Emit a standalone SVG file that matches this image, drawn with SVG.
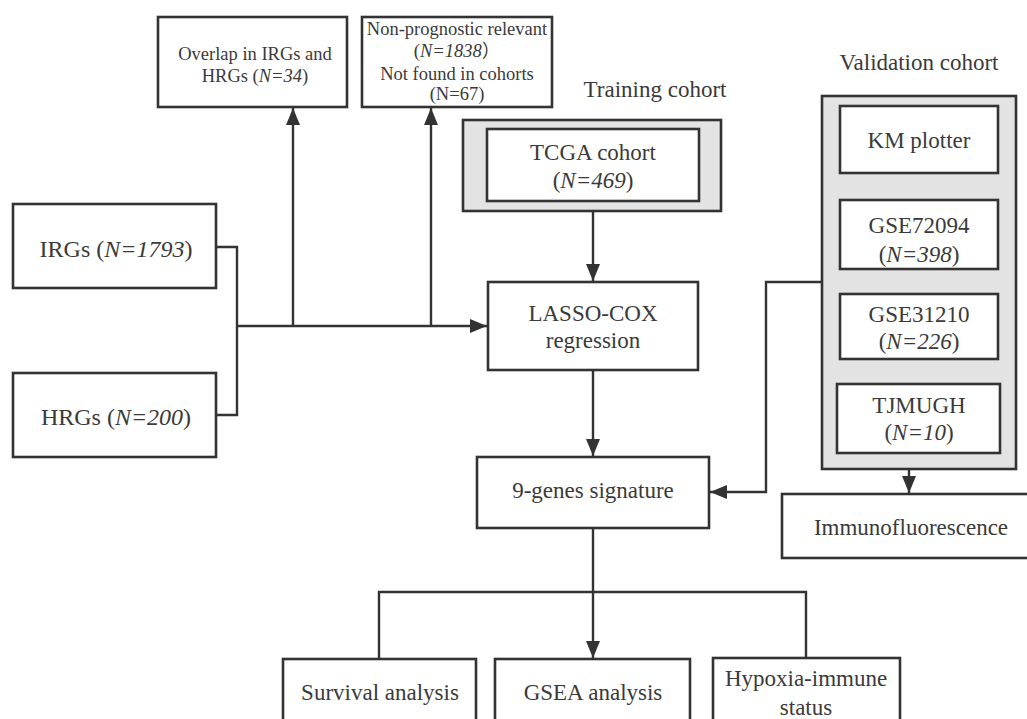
<svg xmlns="http://www.w3.org/2000/svg" width="1027" height="719" viewBox="0 0 1027 719">
<defs>
<style>
.box{fill:#fff;stroke:#333;stroke-width:2.6}
.grp{fill:#e3e3e3;stroke:#333;stroke-width:2.6}
.ln{fill:none;stroke:#333;stroke-width:2.4}
text{font-family:"Liberation Serif","Times New Roman","Noto Sans CJK SC",serif;fill:#3a3a3a;text-anchor:middle}
.t23{font-size:23px}
.t24{font-size:24px}
.t18{font-size:18.5px}
.i{font-style:italic}
</style>
<marker id="ah" markerUnits="userSpaceOnUse" markerWidth="17" markerHeight="14" viewBox="0 0 17 14" refX="17" refY="7" orient="auto">
<path d="M0,0 L17,7 L0,14 Z" fill="#333"/>
</marker>
</defs>
<rect width="1027" height="719" fill="#fff"/>

<g id="connectors">
<polyline class="ln" points="216,247 237,247 237,415 216,415"/>
<line class="ln" x1="237" y1="326" x2="487" y2="326" marker-end="url(#ah)"/>
<line class="ln" x1="293" y1="326" x2="293" y2="108" marker-end="url(#ah)"/>
<line class="ln" x1="431" y1="326" x2="431" y2="108" marker-end="url(#ah)"/>
<line class="ln" x1="593" y1="201" x2="593" y2="281" marker-end="url(#ah)"/>
<line class="ln" x1="593" y1="370" x2="593" y2="456" marker-end="url(#ah)"/>
<polyline class="ln" points="822,282 766,282 766,492 710,492" marker-end="url(#ah)"/>
<line class="ln" x1="909" y1="453" x2="909" y2="493" marker-end="url(#ah)"/>
<line class="ln" x1="593" y1="528" x2="593" y2="658" marker-end="url(#ah)"/>
<polyline class="ln" points="379,659 379,592 806,592 806,658"/>
</g>

<g id="overlap">
<rect class="box" x="158" y="17" width="189" height="90"/>
<text class="t18" x="255" y="60">Overlap in IRGs and</text>
<text class="t18" x="255" y="82">HRGs (<tspan class="i">N=34</tspan>)</text>
</g>

<g id="nonprognostic">
<rect class="box" x="362" y="17" width="190" height="90"/>
<text class="t18" x="457" y="35">Non-prognostic relevant</text>
<text class="t18" x="457" y="57">(<tspan class="i">N=1838</tspan>）</text>
<text class="t18" x="457" y="80">Not found in cohorts</text>
<text class="t18" x="457" y="100">(N=67)</text>
</g>

<g id="training-label">
<text class="t23" x="655" y="97">Training cohort</text>
</g>

<g id="tcga">
<rect class="grp" x="463" y="120" width="258" height="91"/>
<rect class="box" x="487" y="129" width="212" height="72"/>
<text class="t23" x="593" y="160">TCGA cohort</text>
<text class="t23" x="593" y="188">(<tspan class="i">N=469</tspan>)</text>
</g>

<g id="irgs">
<rect class="box" x="13" y="204" width="203" height="84"/>
<text class="t24" x="116" y="257">IRGs (<tspan class="i">N=1793</tspan>)</text>
</g>

<g id="hrgs">
<rect class="box" x="13" y="373" width="203" height="84"/>
<text class="t24" x="116" y="425">HRGs (<tspan class="i">N=200</tspan>)</text>
</g>

<g id="lasso">
<rect class="box" x="488" y="282" width="210" height="88"/>
<text class="t23" x="593" y="321">LASSO-COX</text>
<text class="t23" x="593" y="348">regression</text>
</g>

<g id="validation-label">
<text class="t23" x="919" y="70">Validation cohort</text>
</g>

<g id="validation">
<rect class="grp" x="822" y="96" width="194" height="373"/>
</g>

<g id="km">
<rect class="box" x="840" y="106" width="158" height="67"/>
<text class="t23" x="919" y="148">KM plotter</text>
</g>

<g id="gse72094">
<rect class="box" x="840" y="200" width="158" height="69"/>
<text class="t23" x="919" y="233">GSE72094</text>
<text class="t23" x="919" y="262">(<tspan class="i">N=398</tspan>)</text>
</g>

<g id="gse31210">
<rect class="box" x="840" y="294" width="158" height="65"/>
<text class="t23" x="919" y="322">GSE31210</text>
<text class="t23" x="919" y="349">(<tspan class="i">N=226</tspan>)</text>
</g>

<g id="tjmugh">
<rect class="box" x="837" y="384" width="163" height="69"/>
<text class="t23" x="919" y="413">TJMUGH</text>
<text class="t23" x="919" y="440">(<tspan class="i">N=10</tspan>)</text>
</g>

<g id="immuno">
<rect class="box" x="782" y="494" width="260" height="64"/>
<text class="t23" x="911" y="535">Immunofluorescence</text>
</g>

<g id="signature">
<rect class="box" x="477" y="457" width="232" height="71"/>
<text class="t23" x="593" y="498">9-genes signature</text>
</g>

<g id="survival">
<rect class="box" x="283" y="659" width="193" height="80"/>
<text class="t23" x="380" y="700">Survival analysis</text>
</g>

<g id="gsea">
<rect class="box" x="495" y="659" width="195" height="80"/>
<text class="t23" x="593" y="700">GSEA analysis</text>
</g>

<g id="hypoxia">
<rect class="box" x="713" y="658" width="187" height="80"/>
<text class="t23" x="806" y="686">Hypoxia-immune</text>
<text class="t23" x="806" y="715">status</text>
</g>
</svg>
